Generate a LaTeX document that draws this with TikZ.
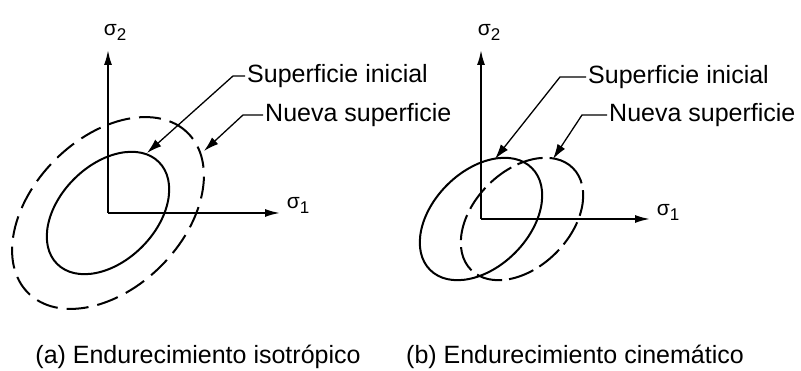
\documentclass[tikz,border=0pt]{standalone}
\usepackage{fontspec}
\setmainfont{Liberation Sans}
\usetikzlibrary{arrows.meta}
\begin{document}
\begin{tikzpicture}[x=1pt,y=1pt,
  curve/.style={line width=2pt},
  dashcurve/.style={line width=2pt, dash pattern=on 22pt off 9pt},
  axis/.style={line width=1.8pt, -{Latex[length=15pt,width=8pt]}},
  leader/.style={line width=1.3pt, -{Latex[length=15pt,width=9pt]}},
  lbl/.style={font=\fontsize{25}{30}\selectfont, inner sep=2pt, anchor=west},
  captxt/.style={font=\fontsize{25}{30}\selectfont, inner sep=0pt},
  sig/.style={font=\fontsize{21}{24}\selectfont, inner sep=0pt}]
\useasboundingbox (0,0) rectangle (801,371);
\newcommand{\sgm}[1]{σ\raisebox{-5pt}{\fontsize{17}{19}\selectfont #1}}
% ---------- (a) ----------
\coordinate (O1) at (108,158);
\coordinate (Y1) at (108,321);
\coordinate (X1) at (280,158);
\draw[axis] (O1) -- (Y1);
\draw[axis] (O1) -- (X1);
\node[sig] (s21) at (115,339) {\sgm{2}};
\node[sig] (s11) at (298,166) {\sgm{1}};
\draw[curve, rotate around={45:(O1)}] (O1) ellipse [x radius=72pt, y radius=48pt];
\draw[dashcurve, rotate around={45:(O1)}] (O1) ellipse [x radius=113pt, y radius=75pt];
\node[lbl] (si1) at (245,295) {Superficie inicial};
\node[lbl] (ns1) at (263,256) {Nueva superficie};
\coordinate (b1) at (233,295);
\coordinate (t1) at (147,218);
\coordinate (b2) at (243,256);
\coordinate (t2) at (204,220);
\draw[leader] (si1.west) -- (b1) -- (t1);
\draw[leader] (ns1.west) -- (b2) -- (t2);
\node[captxt] (ca) at (198,14) {(a) Endurecimiento isotrópico};
% ---------- (b) ----------
\coordinate (O2) at (481,152);
\coordinate (Y2) at (481,321);
\coordinate (X2) at (650,152);
\coordinate (C2) at (522,152);
\draw[axis] (O2) -- (Y2);
\draw[axis] (O2) -- (X2);
\node[sig] (s22) at (489,339) {\sgm{2}};
\node[sig] (s12) at (668,159) {\sgm{1}};
\draw[curve, rotate around={45:(O2)}] (O2) ellipse [x radius=72pt, y radius=48pt];
\draw[dashcurve, dash pattern=on 26pt off 7pt, rotate around={45:(C2)}] (C2) ellipse [x radius=72pt, y radius=48pt];
\node[lbl] (si2) at (586,294) {Superficie inicial};
\node[lbl] (ns2) at (607,256) {Nueva superficie};
\coordinate (b3) at (560,294);
\coordinate (t3) at (495,212);
\coordinate (b4) at (582,256);
\coordinate (t4) at (553,212);
\draw[leader] (si2.west) -- (b3) -- (t3);
\draw[leader] (ns2.west) -- (b4) -- (t4);
\node[captxt] (cb) at (575,14) {(b) Endurecimiento cinemático};
\end{tikzpicture}
\end{document}
